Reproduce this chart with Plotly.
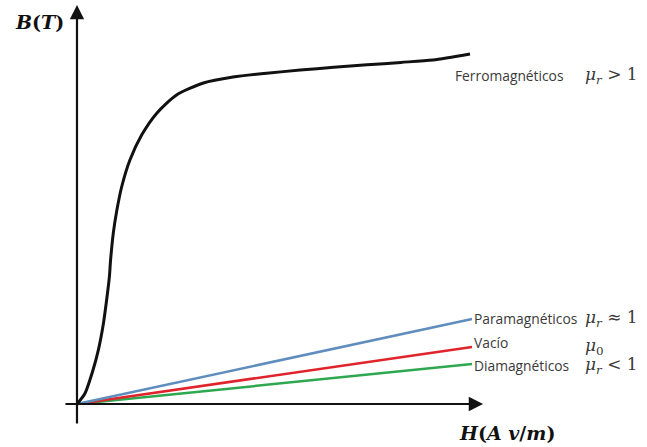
import plotly.graph_objects as go

# Ferromagnetic B-H curve (arbitrary units)
ferro_H = [0.0, 0.20, 0.40, 0.54, 0.67, 0.75, 0.82, 0.85, 0.92, 1.01, 1.13, 1.34, 1.64,
           2.02, 2.52, 3.20, 3.95, 4.80, 5.65, 6.50, 7.34, 8.20, 9.01, 9.95]
ferro_B = [0.0, 0.30, 0.95, 1.54, 2.31, 2.97, 3.63, 4.11, 4.89, 5.54, 6.20, 6.97, 7.69,
           8.31, 8.83, 9.17, 9.34, 9.45, 9.54, 9.62, 9.69, 9.76, 9.83, 10.0]

# Linear materials (H from 0 to end)
lin_H = [0.0, 10.0]
para_B = [0.0, 2.43]
vac_B = [0.0, 1.63]
dia_B = [0.0, 1.14]

names = ["Ferromagnéticos", "Paramagnéticos", "Vacío", "Diamagnéticos"]
nb = "\u00a0"
mu_labels = [f"<i>μ<sub>r</sub></i>{nb}>{nb}1", f"<i>μ<sub>r</sub></i>{nb}≈{nb}1",
             "<i>μ</i><sub>0</sub>", f"<i>μ<sub>r</sub></i>{nb}<{nb}1"]

fig = go.Figure()
fig.add_trace(go.Scatter(x=lin_H, y=dia_B, mode="lines",
                         line=dict(color="#2ea84f", width=2.5), hoverinfo="skip"))
fig.add_trace(go.Scatter(x=lin_H, y=vac_B, mode="lines",
                         line=dict(color="#e0242c", width=2.5), hoverinfo="skip"))
fig.add_trace(go.Scatter(x=lin_H, y=para_B, mode="lines",
                         line=dict(color="#5f8dbd", width=2.5), hoverinfo="skip"))
fig.add_trace(go.Scatter(x=ferro_H, y=ferro_B, mode="lines",
                         line=dict(color="#111111", width=3, shape="spline", smoothing=0.7),
                         hoverinfo="skip"))

ann = []
# axes with arrows
ann.append(dict(x=10.28, y=0, ax=-0.33, ay=0, xref="x", yref="y", axref="x", ayref="y",
                text="", showarrow=True, arrowhead=2, arrowsize=1.3, arrowwidth=2.2,
                arrowcolor="#111111", standoff=0, startstandoff=0))
ann.append(dict(x=0, y=11.4, ax=0, ay=-0.6, xref="x", yref="y", axref="x", ayref="y",
                text="", showarrow=True, arrowhead=2, arrowsize=1.3, arrowwidth=2.2,
                arrowcolor="#111111", standoff=0, startstandoff=0))
serif = "DejaVu Serif"
ann.append(dict(x=-0.94, y=10.91, xref="x", yref="y", text="<b><i>B</i>(<i>T</i>)</b>",
                showarrow=False, font=dict(family=serif, size=19, color="#111111")))
ann.append(dict(x=10.89, y=-0.83, xref="x", yref="y",
                text=f"<b><i>H</i>(<i>A{nb}v</i>/<i>m</i>)</b>",
                showarrow=False, font=dict(family=serif, size=19, color="#111111")))

label_y = [9.4, 2.43, 1.77, 1.11]
mu_y = [9.4, 2.43, 1.63, 1.11]
for n, m, ly, my in zip(names, mu_labels, label_y, mu_y):
    ann.append(dict(x=9.52 if n == "Ferromagnéticos" else 10.0, y=ly, xref="x", yref="y",
                    text=n, showarrow=False, xanchor="left",
                    font=dict(family="Open Sans", size=13.8, color="#3a3a3a")))
    ann.append(dict(x=12.8, y=my, xref="x", yref="y", text=m, showarrow=False,
                    xanchor="left", font=dict(family=serif, size=17, color="#3a3a3a")))

fig.update_layout(
    width=647, height=447, margin=dict(l=0, r=0, t=0, b=0),
    paper_bgcolor="white", plot_bgcolor="white", showlegend=False,
    xaxis=dict(range=[-1.949, 14.430], visible=False, fixedrange=True),
    yaxis=dict(range=[-1.229, 11.543], visible=False, fixedrange=True),
    annotations=ann,
)
fig.write_html("out.html")
